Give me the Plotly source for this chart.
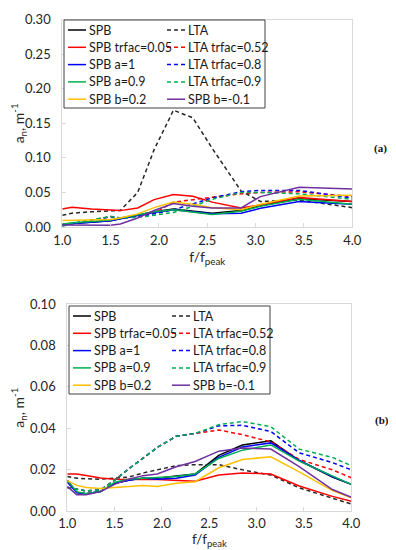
import plotly.graph_objects as go

# ---------------- data: panel (a) ----------------
f_a = [1.0, 1.1, 1.3, 1.5, 1.6, 1.78, 1.95, 2.15, 2.35, 2.55, 2.85, 3.05, 3.45, 4.0]
a_SPB        = [0.004, 0.005, 0.007, 0.009, 0.012, 0.017, 0.022, 0.026, 0.023, 0.020, 0.0237, 0.031, 0.041, 0.037]
a_LTA        = [0.017, 0.020, 0.022, 0.023, 0.024, 0.050, 0.112, 0.169, 0.158, 0.114, 0.052, 0.037, 0.039, 0.028]
a_SPB_tr005  = [0.026, 0.0285, 0.026, 0.024, 0.0237, 0.0275, 0.0396, 0.0469, 0.0444, 0.036, 0.0275, 0.032, 0.0425, 0.037]
a_LTA_tr052  = [0.002, 0.005, 0.010, 0.015, 0.013, 0.015, 0.020, 0.036, 0.040, 0.043, 0.048, 0.050, 0.051, 0.044]
a_SPB_a1     = [0.003, 0.005, 0.007, 0.009, 0.012, 0.017, 0.021, 0.025, 0.022, 0.019, 0.020, 0.027, 0.037, 0.033]
a_LTA_tr08   = [0.002, 0.005, 0.010, 0.015, 0.013, 0.015, 0.019, 0.025, 0.033, 0.042, 0.051, 0.053, 0.053, 0.042]
a_SPB_a09    = [0.004, 0.006, 0.008, 0.010, 0.013, 0.018, 0.022, 0.025, 0.021, 0.018, 0.0227, 0.030, 0.040, 0.033]
a_LTA_tr09   = [0.001, 0.005, 0.010, 0.0155, 0.013, 0.014, 0.017, 0.021, 0.030, 0.040, 0.050, 0.050, 0.048, 0.040]
a_SPB_b02    = [0.0095, 0.010, 0.0105, 0.011, 0.013, 0.019, 0.028, 0.036, 0.033, 0.028, 0.025, 0.033, 0.045, 0.046]
a_SPB_bm01   = [0.003, 0.003, 0.0025, 0.0025, 0.0043, 0.013, 0.024, 0.034, 0.030, 0.0275, 0.0275, 0.044, 0.0575, 0.055]

# ---------------- data: panel (b) ----------------
f_b = [1.0, 1.1, 1.2, 1.35, 1.5, 1.65, 1.8, 1.95, 2.15, 2.35, 2.6, 2.85, 3.15, 3.45, 3.8, 4.0]
b_SPB        = [0.015, 0.009, 0.0085, 0.0095, 0.0135, 0.015, 0.016, 0.016, 0.017, 0.018, 0.027, 0.032, 0.034, 0.0245, 0.0165, 0.013]
b_LTA        = [0.0168, 0.016, 0.0157, 0.0155, 0.016, 0.0165, 0.0185, 0.020, 0.022, 0.0225, 0.0225, 0.020, 0.0175, 0.0113, 0.0062, 0.0035]
b_SPB_tr005  = [0.018, 0.018, 0.0173, 0.0161, 0.0155, 0.0153, 0.0153, 0.0153, 0.015, 0.0145, 0.0175, 0.0185, 0.018, 0.0122, 0.0072, 0.0048]
b_LTA_tr052  = [0.0115, 0.0105, 0.0098, 0.0103, 0.015, 0.0205, 0.0256, 0.0308, 0.0362, 0.0375, 0.0392, 0.037, 0.0335, 0.025, 0.0200, 0.0162]
b_SPB_a1     = [0.014, 0.009, 0.0085, 0.0095, 0.0135, 0.015, 0.016, 0.0155, 0.016, 0.0175, 0.026, 0.031, 0.033, 0.0245, 0.0168, 0.013]
b_LTA_tr08   = [0.0115, 0.0105, 0.0098, 0.0103, 0.015, 0.0205, 0.0256, 0.0308, 0.0362, 0.0375, 0.0412, 0.0415, 0.0385, 0.0282, 0.0235, 0.020]
b_SPB_a09    = [0.015, 0.0095, 0.0085, 0.0095, 0.014, 0.0155, 0.016, 0.0162, 0.0168, 0.018, 0.0255, 0.0295, 0.032, 0.0242, 0.0170, 0.013]
b_LTA_tr09   = [0.0115, 0.0105, 0.0098, 0.0103, 0.015, 0.0205, 0.0256, 0.0308, 0.0362, 0.0375, 0.0418, 0.0433, 0.0408, 0.030, 0.026, 0.022]
b_SPB_b02    = [0.0148, 0.0125, 0.0115, 0.011, 0.0115, 0.012, 0.0125, 0.012, 0.0135, 0.0143, 0.021, 0.025, 0.0263, 0.019, 0.0100, 0.0065]
b_SPB_bm01   = [0.012, 0.008, 0.008, 0.0095, 0.013, 0.0155, 0.0172, 0.018, 0.0215, 0.024, 0.029, 0.0305, 0.030, 0.0215, 0.0105, 0.0068]

# series labels in legend order (row-wise, two columns)
names = ["SPB", "LTA", "SPB trfac=0.05", "LTA trfac=0.52", "SPB a=1",
         "LTA trfac=0.8", "SPB a=0.9", "LTA trfac=0.9", "SPB b=0.2", "SPB b=-0.1"]
colors = ["#000000", "#262626", "#ff0000", "#ff0000", "#0000ff",
          "#0000ff", "#00b050", "#00b050", "#ffc000", "#7030a0"]
DASH = "4px,3px"
dashes = ["solid", DASH, "solid", DASH, "solid", DASH, "solid", DASH, "solid", "solid"]

series_a = [a_SPB, a_LTA, a_SPB_tr005, a_LTA_tr052, a_SPB_a1, a_LTA_tr08,
            a_SPB_a09, a_LTA_tr09, a_SPB_b02, a_SPB_bm01]
series_b = [b_SPB, b_LTA, b_SPB_tr005, b_LTA_tr052, b_SPB_a1, b_LTA_tr08,
            b_SPB_a09, b_LTA_tr09, b_SPB_b02, b_SPB_bm01]

FONT = "Lato, 'Open Sans', sans-serif"
W, H = 396, 550
fig = go.Figure()

for n, c, d, ys in zip(names, colors, dashes, series_a):
    fig.add_trace(go.Scatter(x=f_a, y=ys, mode="lines", name=n, showlegend=False,
                             line=dict(color=c, width=1.5, dash=d),
                             xaxis="x", yaxis="y"))
for n, c, d, ys in zip(names, colors, dashes, series_b):
    fig.add_trace(go.Scatter(x=f_b, y=ys, mode="lines", name=n, showlegend=False,
                             line=dict(color=c, width=1.5, dash=d),
                             xaxis="x2", yaxis="y2"))

# ---- boxed two-column legend (drawn in paper space, like the original) ----
shapes, annotations = [], []


def px(x):
    return x / W


def py(y):
    return 1 - y / H


def add_legend(left, top):
    width, height, row_h, col_w = 201, 88, 17.3, 99
    shapes.append(dict(type="rect", xref="paper", yref="paper",
                       x0=px(left), x1=px(left + width), y0=py(top + height), y1=py(top),
                       line=dict(color="#404040", width=1), fillcolor="white", layer="above"))
    for i, (n, c, d) in enumerate(zip(names, colors, dashes)):
        r, col = divmod(i, 2)
        x0 = left + 4 + col * col_w
        yc = top + 10 + r * row_h
        shapes.append(dict(type="line", xref="paper", yref="paper",
                           x0=px(x0), x1=px(x0 + 18), y0=py(yc), y1=py(yc),
                           line=dict(color=c, width=1.5, dash=d), layer="above"))
        annotations.append(dict(text=n, x=px(x0 + 19), y=py(yc), xref="paper", yref="paper",
                                xanchor="left", yanchor="middle", showarrow=False,
                                font=dict(family=FONT, size=12.5, color="#1a1a1a")))


add_legend(56, 12)
add_legend(61, 298)

annotations += [
    dict(text="<b>(a)</b>", x=px(381), y=py(132), xref="paper", yref="paper",
         showarrow=False, font=dict(family="Liberation Serif, serif", size=11, color="#111")),
    dict(text="<b>(b)</b>", x=px(383), y=py(421), xref="paper", yref="paper",
         showarrow=False, font=dict(family="Liberation Serif, serif", size=11, color="#111")),
]

axis_common = dict(showline=True, mirror=True, linecolor="#d9d9d9", linewidth=1,
                   ticks="inside", ticklen=4, tickcolor="#d9d9d9",
                   showgrid=False, zeroline=False, automargin=False,
                   tickfont=dict(family=FONT, size=13, color="#262626"))
title_font = dict(family=FONT, size=14, color="#262626")

fig.update_layout(
    template="none",
    width=W, height=H,
    margin=dict(l=0, r=0, t=0, b=0),
    paper_bgcolor="white", plot_bgcolor="white",
    showlegend=False,
    xaxis=dict(domain=[px(54.3), px(344.3)], anchor="y", range=[1.0, 4.0],
               tickvals=[1.0, 1.5, 2.0, 2.5, 3.0, 3.5, 4.0], tickformat=".1f",
               ticklabelstandoff=1,
               title=dict(text="f/f<sub>peak</sub>", standoff=0, font=title_font),
               **axis_common),
    yaxis=dict(domain=[py(219), py(11.7)], anchor="x", range=[0, 0.30],
               tickvals=[0, 0.05, 0.10, 0.15, 0.20, 0.25, 0.30], tickformat=".2f",
               ticklabelstandoff=8,
               title=dict(text="a<sub>n</sub>, m<sup>-1</sup>", standoff=0, font=title_font),
               **axis_common),
    xaxis2=dict(domain=[px(59.3), px(343.3)], anchor="y2", range=[1.0, 4.0],
                tickvals=[1.0, 1.5, 2.0, 2.5, 3.0, 3.5, 4.0], tickformat=".1f",
                ticklabelstandoff=0,
                title=dict(text="f/f<sub>peak</sub>", standoff=0,
                           font=dict(family=FONT, size=13.5, color="#262626")),
                **axis_common),
    yaxis2=dict(domain=[py(503.3), py(296)], anchor="x2", range=[0, 0.10],
                tickvals=[0, 0.02, 0.04, 0.06, 0.08, 0.10], tickformat=".2f",
                ticklabelstandoff=8,
                title=dict(text="a<sub>n</sub>, m<sup>-1</sup>", standoff=2, font=title_font),
                **axis_common),
    shapes=shapes,
    annotations=annotations,
)

fig.write_html("out.html")
